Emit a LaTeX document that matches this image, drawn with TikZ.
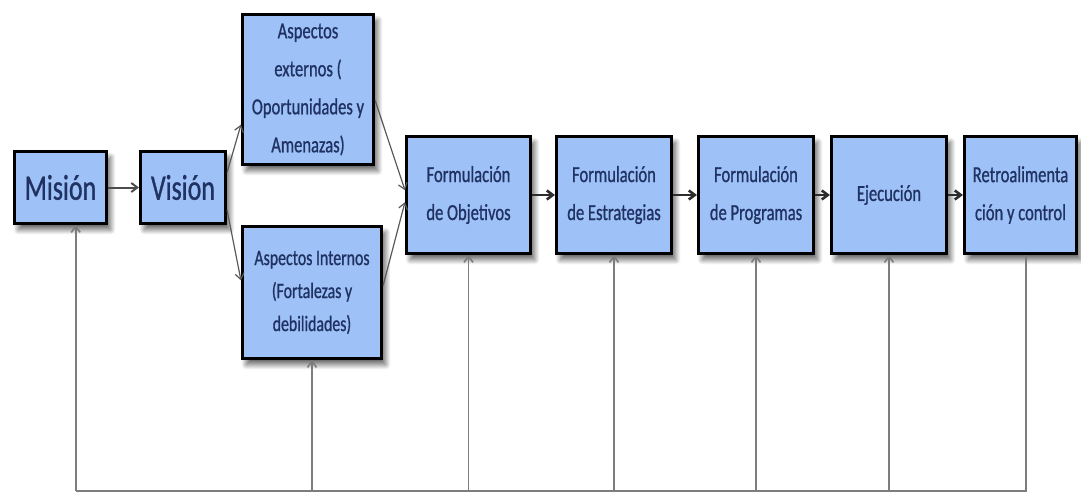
\documentclass[tikz,border=0pt]{standalone}
\usepackage{fontspec}
\usetikzlibrary{arrows.meta,calc,shadows.blur}
\newfontfamily\boxfont[FakeStretch=0.72,FakeBold=0.8]{Carlito}
\definecolor{boxfill}{RGB}{158,193,247}
\definecolor{boxtext}{RGB}{32,50,98}
\definecolor{flowdark}{RGB}{45,45,45}
\definecolor{fbgray}{RGB}{125,125,125}
\tikzset{
  box/.style={draw=black, line width=2.6pt, fill=boxfill, text=boxtext,
    align=center, inner sep=0pt,
    font={\boxfont\fontsize{23}{38}\selectfont},
    blur shadow={shadow xshift=4pt, shadow yshift=-6pt, shadow blur radius=5pt,
      shadow blur steps=10, shadow opacity=60}},
  bigtext/.style={font={\boxfont\fontsize{36}{40}\selectfont}},
  tip/.style={-{Straight Barb[length=6pt,width=9pt]}},
  rowarrow/.style={tip, draw=flowdark, line width=2.6pt},
  firstarrow/.style={tip, draw=flowdark!85, line width=2pt},
  branch/.style={tip, draw=black!65, line width=1.2pt},
  fbline/.style={draw=fbgray, line width=1.6pt},
  fbarrow/.style={fbline, -{Straight Barb[length=6pt,width=9pt]}}
}
\begin{document}
\begin{tikzpicture}[x=1pt,y=-1pt]
\useasboundingbox (0,0) rectangle (1081,493);

% process boxes
\node[box, bigtext, minimum width=92.5pt, minimum height=72.5pt] (mis) at (60.5,187.5) {Misión};
\node[box, bigtext, minimum width=85.5pt, minimum height=72.5pt] (vis) at (183,187.5) {Visión};
\node[box, minimum width=131.5pt, minimum height=150.5pt] (ext) at (308,89.5)
  {Aspectos\\externos (\\Oportunidades y\\Amenazas)};
\node[box, font={\boxfont\fontsize{22}{33}\selectfont}, minimum width=139.5pt, minimum height=132.5pt] (int) at (312,292.5)
  {Aspectos Internos\\(Fortalezas y\\debilidades)};
\node[box, minimum width=124.5pt, minimum height=117.5pt] (obj) at (468.5,195) {Formulación\\de Objetivos};
\node[box, minimum width=115.5pt, minimum height=117.5pt] (est) at (614,195) {Formulación\\de Estrategias};
\node[box, minimum width=115.5pt, minimum height=117.5pt] (pro) at (756,195) {Formulación\\de Programas};
\node[box, minimum width=115.5pt, minimum height=117.5pt] (eje) at (889,195) {Ejecución};
\node[box, minimum width=112.5pt, minimum height=117.5pt] (ret) at (1020.5,195) {Retroalimenta\\ción y control};

% main flow
\draw[firstarrow] (mis.east) -- (vis.west);
\draw[branch] ($(vis.north east)!0.3!(vis.south east)$) -- ($(ext.north west)!0.73!(ext.south west)$);
\draw[branch] ($(vis.north east)!0.8!(vis.south east)$) -- ($(int.north west)!0.41!(int.south west)$);
\draw[branch] ($(ext.north east)!0.57!(ext.south east)$) -- ($(obj.north west)!0.46!(obj.south west)$);
\draw[branch] ($(int.north east)!0.45!(int.south east)$) -- ($(obj.north west)!0.56!(obj.south west)$);
\draw[rowarrow] (obj.east) -- (est.west);
\draw[rowarrow] (est.east) -- (pro.west);
\draw[rowarrow] (pro.east) -- (eje.west);
\draw[rowarrow] (eje.east) -- (ret.west);

% feedback loop
\coordinate (base) at (0,491);
\coordinate (misfb) at ($(mis.south west)!0.66!(mis.south east)$);
\coordinate (retfb) at ($(ret.south west)!0.55!(ret.south east)$);
\draw[fbline] (retfb) -- (retfb |- base) -- (misfb |- base);
\draw[fbarrow] (misfb |- base) -- (misfb);
\foreach \n in {int,obj,est,pro,eje}
  \draw[fbarrow] (\n.south |- base) -- (\n.south);
\end{tikzpicture}
\end{document}
